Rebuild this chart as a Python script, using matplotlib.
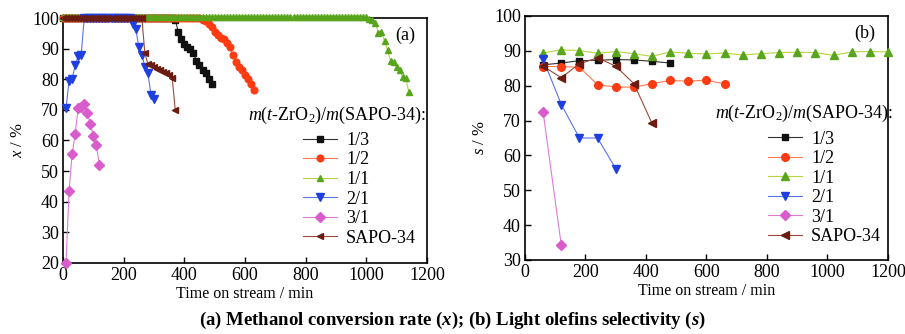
import numpy as np
import matplotlib
matplotlib.use("Agg")
import matplotlib.pyplot as plt

plt.rcParams['font.family'] = ['Liberation Serif', 'DejaVu Serif']
plt.rcParams['mathtext.fontset'] = 'custom'
plt.rcParams['mathtext.rm'] = 'Liberation Serif'
plt.rcParams['mathtext.it'] = 'Liberation Serif:italic'
plt.rcParams['mathtext.bf'] = 'Liberation Serif:bold:italic'

# ---------------- data: (a) methanol conversion x / % ----------------
labels = ["1/3", "1/2", "1/1", "2/1", "3/1", "SAPO-34"]

# 1/3
a13_t = list(range(0, 370, 10)) + [370, 380, 390, 400, 410, 420, 430, 440, 450, 460, 470, 480, 490]
a13_x = [100] * 37 + [99.5, 95.5, 93, 91.5, 90.5, 90, 88.5, 86, 84.5, 83, 82, 80, 78.5]
# 1/2
a12_t = list(range(0, 460, 10)) + [460, 470, 480, 490, 500, 510, 520, 530, 540, 550, 560, 570, 580, 590, 600, 610, 620, 630]
a12_x = [100] * 46 + [99.5, 99, 98, 97, 95.5, 94.5, 93.5, 93, 92, 90.5, 88, 85.5, 84, 83, 81.5, 80, 78.5, 76.5]
# 1/1
a11_t = list(range(0, 1010, 10)) + [1010, 1020, 1030, 1040, 1050, 1060, 1070, 1080, 1090, 1100, 1110, 1120, 1130, 1140]
a11_x = [100.3] * 101 + [99.8, 99.3, 98.5, 95, 95.5, 92.5, 89.5, 86, 85.5, 84, 83, 80.7, 80.5, 75.8]
# 2/1
a21_t = [10, 20, 30, 40, 50, 60] + list(range(70, 230, 10)) + [230, 240, 250, 260, 270, 280, 290, 300]
a21_x = [70.5, 79.5, 80, 84.5, 87.5, 88] + [100] * 16 + [98, 96.5, 90.5, 88, 84, 82, 75, 73.5]
# 3/1
a31_t = [10, 20, 30, 40, 50, 60, 70, 80, 90, 100, 110, 120]
a31_x = [20, 43.5, 55.5, 62, 70.5, 71, 72, 69, 65.5, 61.5, 58.5, 52]
# SAPO-34
asp_t = list(range(0, 270, 10)) + [270, 280, 290, 300, 310, 320, 330, 340, 350, 360, 370]
asp_x = [100] * 27 + [88.5, 85, 84.5, 84, 83.5, 83, 82.5, 82, 81.5, 80.5, 70]

# ---------------- data: (b) light olefins selectivity s / % ----------------
b13_t = [60, 120, 180, 240, 300, 360, 420, 480]
b13_s = [86.0, 86.5, 87.2, 87.3, 87.5, 87.4, 87.0, 86.5]
b12_t = [60, 120, 180, 240, 300, 360, 420, 480, 540, 600, 660]
b12_s = [85.5, 85.5, 85.3, 80.3, 79.6, 79.6, 80.6, 81.5, 81.3, 81.6, 80.5]
b11_t = [60, 120, 180, 240, 300, 360, 420, 480, 540, 600, 660, 720, 780, 840, 900, 960, 1020, 1080, 1140, 1200]
b11_s = [89.4, 90.3, 90.1, 89.3, 89.8, 89.2, 88.4, 89.7, 89.3, 89.1, 89.4, 88.8, 89.2, 89.5, 89.6, 89.5, 88.7, 89.7, 89.8, 89.7]
b21_t = [60, 120, 180, 240, 300]
b21_s = [87.6, 74.6, 65.0, 65.0, 56.2]
b31_t = [60, 120]
b31_s = [72.4, 34.2]
bsp_t = [60, 120, 180, 240, 300, 360, 420]
bsp_s = [85.6, 82.3, 86.3, 88.0, 85.6, 80.6, 69.2]

a_series = [(a13_t, a13_x), (a12_t, a12_x), (a11_t, a11_x), (a21_t, a21_x), (a31_t, a31_x), (asp_t, asp_x)]
b_series = [(b13_t, b13_s), (b12_t, b12_s), (b11_t, b11_s), (b21_t, b21_s), (b31_t, b31_s), (bsp_t, bsp_s)]

markers = ['s', 'o', '^', 'v', 'D', '<']
mcolors = ['#111111', '#ff3b12', '#58a51c', '#1f3fe0', '#d85ccc', '#6a1c10']
lcolors = ['#333333', '#ff7a50', '#b8d43a', '#5a74e8', '#e07ad8', '#9a4a3a']
msizes_a = [4.5, 4.8, 4.8, 5.5, 4.8, 5.0]
msizes_b = [5.0, 5.5, 5.5, 6.0, 5.0, 5.5]

fig = plt.figure(figsize=(9.05, 3.34), dpi=100)
axA = fig.add_axes([0.0696, 0.2126, 0.4022, 0.7335])
axB = fig.add_axes([0.5801, 0.2216, 0.4011, 0.7305])

def style(ax, ylo, yhi):
    ax.set_xlim(0, 1200)
    ax.set_ylim(ylo, yhi)
    ax.set_xticks(range(0, 1201, 200))
    ax.set_yticks(range(ylo, yhi + 1, 10))
    ax.tick_params(direction='in', length=4, width=1.0, labelsize=13, pad=3,
                   top=False, right=False)
    for s in ax.spines.values():
        s.set_linewidth(1.2)
    ax.set_xlabel("Time on stream / min", fontsize=11.5, labelpad=1)

def legend_block(ax, title_xy, leg_xy):
    ax.text(title_xy[0], title_xy[1], r"$m$($t$-ZrO$_2$)/$m$(SAPO-34):",
            transform=ax.transAxes, fontsize=13, ha='left', va='center')
    leg = ax.legend(loc='upper left', bbox_to_anchor=leg_xy, frameon=False,
                    fontsize=13, borderaxespad=0, borderpad=0, handlelength=1.9,
                    handletextpad=0.5, labelspacing=0.14)
    return leg

for i, (t, v) in enumerate(a_series):
    axA.plot(t, v, color=lcolors[i], lw=0.8, marker=markers[i], ms=msizes_a[i],
             mfc=mcolors[i], mec=mcolors[i], label=labels[i], clip_on=False, zorder=3)
for i, (t, v) in enumerate(b_series):
    axB.plot(t, v, color=lcolors[i], lw=0.8, marker=markers[i], ms=msizes_b[i],
             mfc=mcolors[i], mec=mcolors[i], label=labels[i], clip_on=False, zorder=3)

style(axA, 20, 100)
style(axB, 30, 100)
axA.set_ylabel(r"$x$ / %", fontsize=12, labelpad=4)
axB.set_ylabel(r"$s$ / %", fontsize=12, labelpad=4)

axA.text(0.94, 0.93, "(a)", transform=axA.transAxes, fontsize=13, ha='center', va='center')
axB.text(0.937, 0.93, "(b)", transform=axB.transAxes, fontsize=13, ha='center', va='center')

legend_block(axA, (0.508, 0.604), (0.659, 0.535))
legend_block(axB, (0.523, 0.602), (0.669, 0.53))

fig.text(0.5, 0.042, r"(a) Methanol conversion rate ($\mathbf{x}$); (b) Light olefins selectivity ($\mathbf{s}$)",
         ha='center', va='center', fontsize=13.5, fontweight='bold')

fig.savefig("out.png", dpi=100)
